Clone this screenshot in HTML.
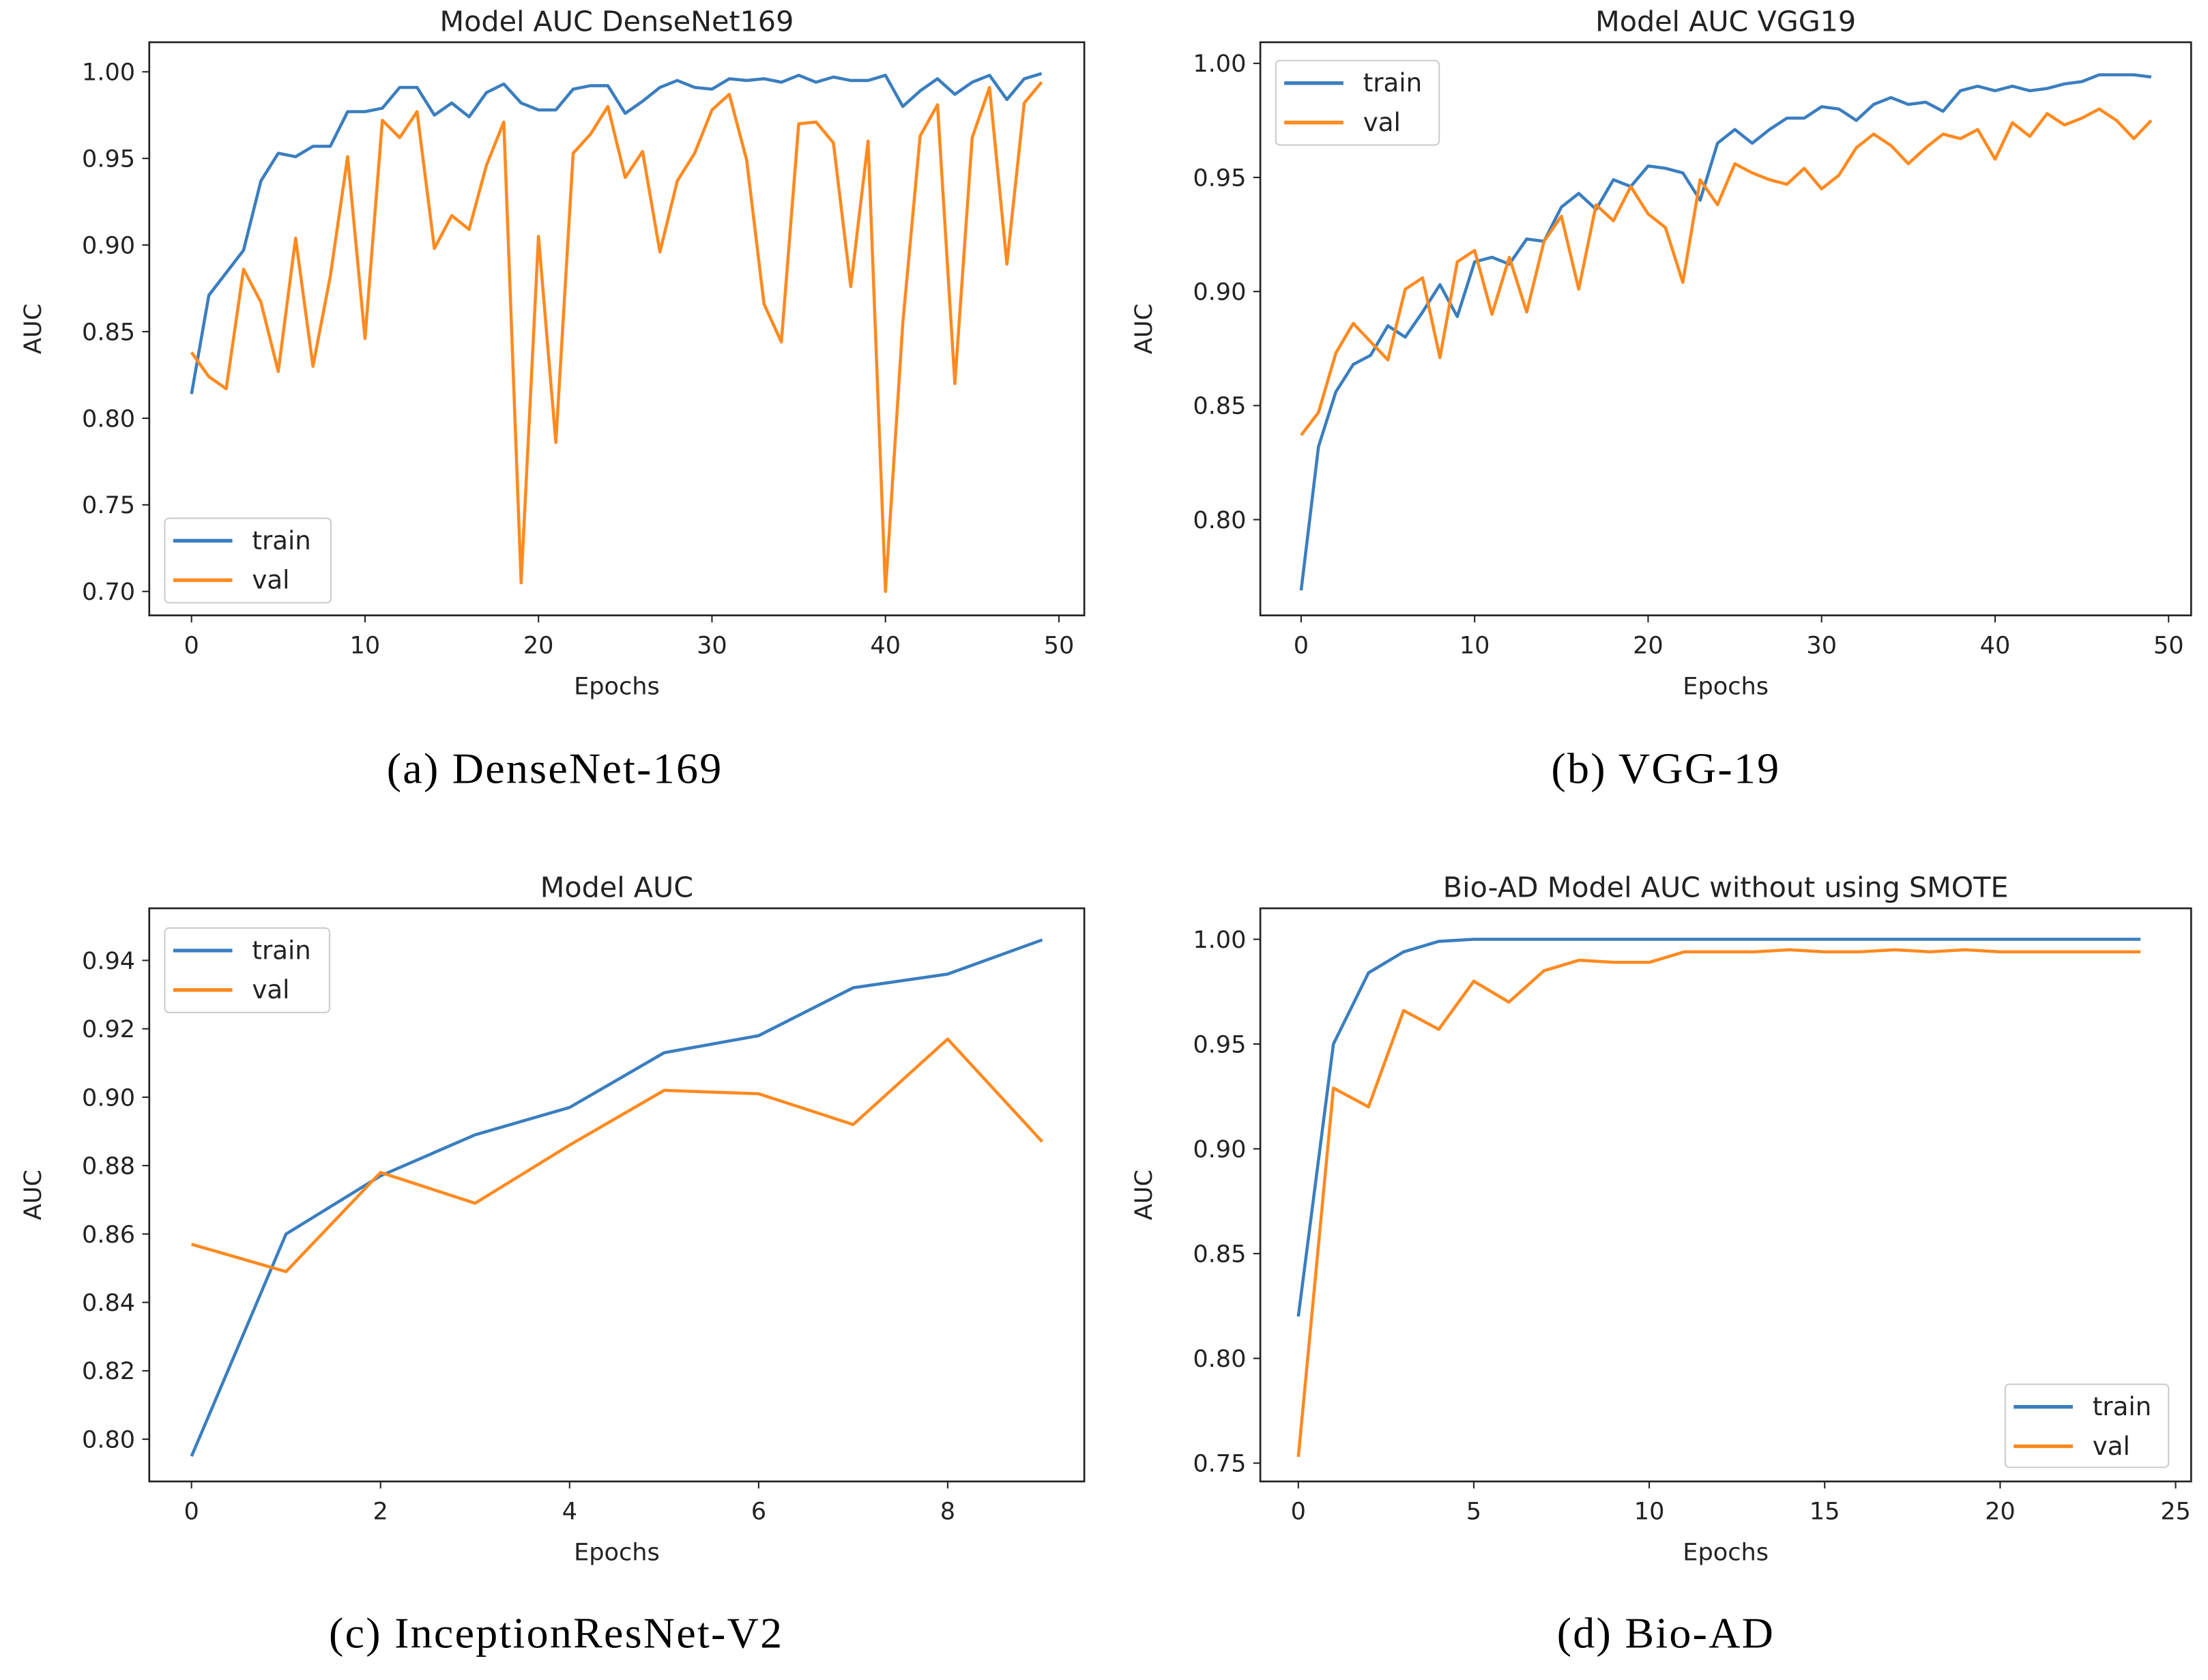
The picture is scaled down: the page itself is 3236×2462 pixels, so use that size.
<!DOCTYPE html>
<html><head><meta charset="utf-8">
<style>
html,body{margin:0;padding:0;background:#fff;}
svg{display:block;}
text{font-family:"DejaVu Sans","Liberation Sans",sans-serif;fill:#222;}
.cap{font-family:"Liberation Serif",serif;font-size:31px;letter-spacing:1.1px;fill:#000;}
</style></head>
<body>
<svg id="fig" width="3236" height="2462" viewBox="0 0 1568 1193" preserveAspectRatio="none" xmlns="http://www.w3.org/2000/svg">
<text class="cap" x="394" y="556" text-anchor="middle">(a)  DenseNet-169</text>
<text class="cap" x="1183" y="556" text-anchor="middle">(b)  VGG-19</text>
<text class="cap" x="395" y="1170" text-anchor="middle">(c)  InceptionResNet-V2</text>
<text class="cap" x="1183" y="1170" text-anchor="middle">(d)  Bio-AD</text>
</svg>
<script>
// Chart A: DenseNet169
const aTrain=[.814,.871,.884,.897,.937,.953,.951,.957,.957,.977,.977,.979,.991,.991,.975,.982,.974,.988,.993,.982,.978,.978,.990,.992,.992,.976,.983,.991,.995,.991,.990,.996,.995,.996,.994,.998,.994,.997,.995,.995,.998,.980,.989,.996,.987,.994,.998,.984,.996,.999];
const aVal=[.838,.824,.817,.886,.867,.827,.904,.830,.882,.951,.846,.972,.962,.977,.898,.917,.909,.946,.971,.705,.905,.786,.953,.964,.980,.939,.954,.896,.937,.953,.978,.987,.949,.866,.844,.970,.971,.959,.876,.960,.700,.855,.963,.981,.820,.962,.991,.889,.982,.994];
const aXTicks=[0,10,20,30,40,50];
const aYTicks=[0.70,0.75,0.80,0.85,0.90,0.95,1.00];
// Chart B: VGG19
const bTrain=[.769,.832,.856,.868,.872,.885,.880,.891,.903,.889,.913,.915,.912,.923,.922,.937,.943,.936,.949,.946,.955,.954,.952,.940,.965,.971,.965,.971,.976,.976,.981,.980,.975,.982,.985,.982,.983,.979,.988,.990,.988,.990,.988,.989,.991,.992,.995,.995,.995,.994];
const bVal=[.837,.847,.873,.886,.878,.870,.901,.906,.871,.913,.918,.890,.915,.891,.922,.933,.901,.938,.931,.946,.934,.928,.904,.949,.938,.956,.952,.949,.947,.954,.945,.951,.963,.969,.964,.956,.963,.969,.967,.971,.958,.974,.968,.978,.973,.976,.980,.975,.967,.975];
const bXTicks=[0,10,20,30,40,50];
const bYTicks=[0.80,0.85,0.90,0.95,1.00];
// Chart C: InceptionResNetV2
const cTrain=[.795,.860,.877,.889,.897,.913,.918,.932,.936,.946];
const cVal=[.857,.849,.878,.869,.886,.902,.901,.892,.917,.887];
const cXTicks=[0,2,4,6,8];
const cYTicks=[0.80,0.82,0.84,0.86,0.88,0.90,0.92,0.94];
// Chart D: Bio-AD
const dTrain=[.820,.950,.984,.994,.999,1.0,1.0,1.0,1.0,1.0,1.0,1.0,1.0,1.0,1.0,1.0,1.0,1.0,1.0,1.0,1.0,1.0,1.0,1.0,1.0];
const dVal=[.753,.929,.920,.966,.957,.980,.970,.985,.990,.989,.989,.994,.994,.994,.995,.994,.994,.995,.994,.995,.994,.994,.994,.994,.994];
const dXTicks=[0,5,10,15,20,25];
const dYTicks=[0.75,0.80,0.85,0.90,0.95,1.00];

const NS="http://www.w3.org/2000/svg";
const svg=document.getElementById('fig');
function mk(tag,attrs,parent){const e=document.createElementNS(NS,tag);for(const k in attrs)e.setAttribute(k,attrs[k]);(parent||svg).appendChild(e);return e;}

function chart(cfg){
  const g=mk('g',{});
  
  
  const X=v=>cfg.x0+(v-cfg.xv0)*(cfg.x1-cfg.x0)/(cfg.xv1-cfg.xv0);
  const Y=v=>cfg.y0+(v-cfg.yv0)*(cfg.y1-cfg.y0)/(cfg.yv1-cfg.yv0);
  const [L,T,R,B]=cfg.box;
  const t=mk('text',{x:(L+R)/2,y:T-8,'text-anchor':'middle','font-size':20},g);t.textContent=cfg.title;
  
  
  cfg.xt.forEach(v=>{
    const x=X(v);
    mk('line',{x1:x,x2:x,y1:B,y2:B+5,stroke:'#222','stroke-width':1},g);
    const tx=mk('text',{x:x,y:B+27,'text-anchor':'middle','font-size':17},g);tx.textContent=v;
    
    
  });
  cfg.yt.forEach(v=>{
    const y=Y(v);
    mk('line',{x1:L-5,x2:L,y1:y,y2:y,stroke:'#222','stroke-width':1},g);
    const ty=mk('text',{x:L-10,y:y+6,'text-anchor':'end','font-size':17},g);ty.textContent=v.toFixed(2);
    
    
  });
  const xl=mk('text',{x:(L+R)/2,y:B+56,'text-anchor':'middle','font-size':17},g);xl.textContent='Epochs';
  
  
  const yx=L-77, yy=(T+B)/2;
  const yl=mk('text',{x:yx,y:yy,'text-anchor':'middle','font-size':17,transform:`rotate(-90 ${yx} ${yy})`},g);yl.textContent='AUC';
  
  
  [[cfg.train,'#3a7ebf','train-line'],[cfg.val,'#ff8a1f','val-line']].forEach(([arr,col,nm])=>{
    const p=mk('polyline',{points:arr.map((v,i)=>X(i)+','+Y(v)).join(' '),fill:'none',stroke:col,'stroke-width':2.2,'stroke-linejoin':'round'},g);
    
    
  });
  mk('rect',{x:L,y:T,width:R-L,height:B-T,fill:'none',stroke:'#222','stroke-width':1.3},g);
  const [lx,ly,lw,lh]=cfg.leg;
  const lg=mk('g',{},g);
  
  
  mk('rect',{x:lx,y:ly,width:lw,height:lh,rx:3,fill:'#fff','fill-opacity':0.8,stroke:'#ccc','stroke-width':1},lg);
  [['train','#3a7ebf'],['val','#ff8a1f']].forEach(([n,c],k)=>{
    const yy=ly+16+k*28;
    mk('line',{x1:lx+6,x2:lx+48,y1:yy,y2:yy,stroke:c,'stroke-width':2.6},lg);
    const tt=mk('text',{x:lx+62,y:yy+6,'font-size':18},lg);tt.textContent=n;
    
    
  });
}

chart({id:'chart-densenet169',title:'Model AUC DenseNet169',box:[106,30,770,437],x0:136,x1:752,xv0:0,xv1:50,y0:51,y1:420,yv0:1.0,yv1:0.70,train:aTrain,val:aVal,xt:aXTicks,yt:aYTicks,leg:[117,368,118,60]});
chart({id:'chart-vgg19',title:'Model AUC VGG19',box:[895,30,1556,437],x0:924,x1:1540,xv0:0,xv1:50,y0:45,y1:369,yv0:1.0,yv1:0.80,train:bTrain,val:bVal,xt:bXTicks,yt:bYTicks,leg:[906,43,116,60]});
chart({id:'chart-inceptionresnet',title:'Model AUC',box:[106,645,770,1052],x0:136,x1:673,xv0:0,xv1:8,y0:682,y1:1022,yv0:0.94,yv1:0.80,train:cTrain,val:cVal,xt:cXTicks,yt:cYTicks,leg:[117,659,117,60]});
chart({id:'chart-bioad',title:'Bio-AD Model AUC without using SMOTE',box:[895,645,1556,1052],x0:922,x1:1545,xv0:0,xv1:25,y0:667,y1:1039,yv0:1.0,yv1:0.75,train:dTrain,val:dVal,xt:dXTicks,yt:dYTicks,leg:[1424,983,116,59]});
</script>
</body></html>
